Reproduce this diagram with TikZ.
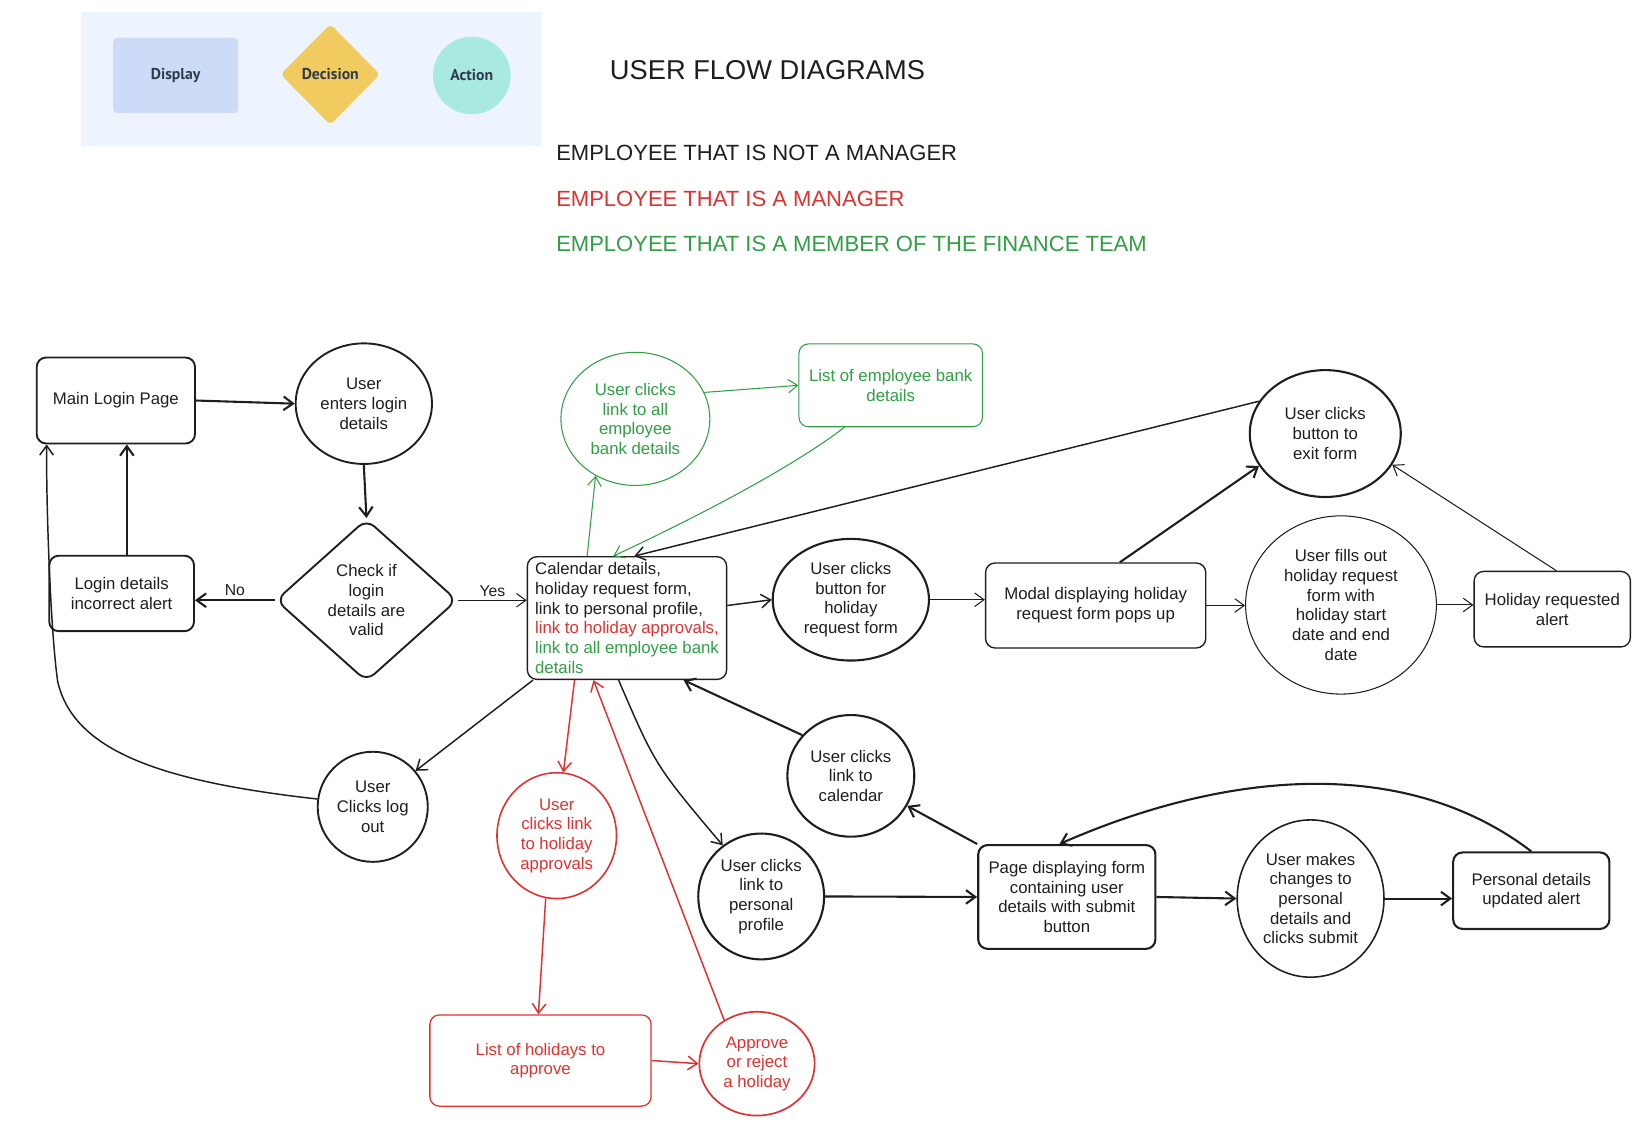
\documentclass[tikz,border=0pt]{standalone}
\usepackage{fontspec}
\setmainfont{Liberation Sans}
\newfontfamily\legfont{PT Sans}
\usetikzlibrary{shapes.geometric,arrows.meta}
\definecolor{ink}{HTML}{1E1E1E}
\definecolor{rd}{HTML}{E03131}
\definecolor{gr}{HTML}{2F9E44}
\definecolor{legbg}{HTML}{EEF4FD}
\definecolor{dispc}{HTML}{CCDCF6}
\definecolor{decc}{HTML}{F1CB5F}
\definecolor{actc}{HTML}{A8EAE1}
\definecolor{legtxt}{HTML}{2F3B4C}
\tikzset{
  box/.style={draw=ink, rectangle, rounded corners=9pt, line width=1.8pt, align=center, inner sep=3pt, text=ink},
  act/.style={draw=ink, ellipse, line width=1.8pt, align=center, inner sep=0pt, text=ink},
  dec/.style={draw=ink, diamond, line width=1.8pt, align=center, inner sep=0pt, rounded corners=10pt, text=ink},
  rbox/.style={box, draw=rd, text=rd, line width=1.2pt},
  ract/.style={act, draw=rd, text=rd, line width=1.5pt},
  gbox/.style={box, draw=gr, text=gr, line width=1pt},
  gact/.style={act, draw=gr, text=gr, line width=1pt},
  tip/.style={-{Straight Barb[length=9pt,width=13pt]}},
  thk/.style={draw=ink, line width=2pt, tip},
  med/.style={draw=ink, line width=1.4pt, tip},
  thn/.style={draw=ink, line width=1pt, tip},
  red/.style={draw=rd, line width=1.4pt, tip},
  grn/.style={draw=gr, line width=1pt, tip},
  leg/.style={font=\legfont\bfseries\fontsize{15}{18}\selectfont, text=legtxt},
  head/.style={font=\fontsize{21}{24}\selectfont, anchor=west},
  lbl/.style={font=\fontsize{15}{18}\selectfont, text=ink}
}
\begin{document}
\begin{tikzpicture}[x=1pt,y=-1pt, font=\fontsize{16}{18.8}\selectfont]
\path[use as bounding box] (0,0) rectangle (1568,1076);

% legend
\fill[legbg] (77,11) rectangle (516,139);
\node[leg, fill=dispc, rounded corners=4pt, minimum width=119pt, minimum height=72pt] (lgdisp) at (167.5,72) {Display};
\node[leg, diamond, fill=decc, rounded corners=4pt, inner sep=0pt, minimum width=95pt, minimum height=96pt] (lgdec) at (315,71) {Decision};
\node[leg, circle, fill=actc, inner sep=0pt, minimum size=74pt] (lgact) at (450,72) {Action};

% title and key
\node[font=\fontsize{26}{30}\selectfont, text=ink] (title) at (732,67) {USER FLOW DIAGRAMS};
\node[head, text=ink] (k1) at (527,146) {EMPLOYEE THAT IS NOT A MANAGER};
\node[head, text=rd] (k2) at (527,190) {EMPLOYEE THAT IS A MANAGER};
\node[head, text=gr] (k3) at (527,233) {EMPLOYEE THAT IS A MEMBER OF THE FINANCE TEAM};

% nodes
\node[box, minimum width=151pt, minimum height=82pt] (mainlogin) at (110.5,382) {Main Login Page};
\node[act, minimum width=130pt, minimum height=115pt] (enters) at (347,385) {User\\enters login\\details};
\node[dec, minimum width=173pt, minimum height=155pt] (check) at (349.5,572.5) {Check if\\login\\details are\\valid};
\node[box, minimum width=138pt, minimum height=72pt] (loginalert) at (116,566) {Login details\\incorrect alert};
\node[box, line width=1.3pt, inner sep=2pt, align=left, minimum width=190pt, minimum height=117pt] (calendar) at (598,589.5)
  {Calendar details,\\holiday request form,\\link to personal profile,\\\textcolor{rd}{link to holiday approvals,}\\\textcolor{gr}{link to all employee bank}\\\textcolor{gr}{details}};
\node[act, minimum width=105pt, minimum height=105pt] (logout) at (355.5,769.5) {User\\Clicks log\\out};
\node[ract, minimum width=114pt, minimum height=120pt] (apprlink) at (531,797) {User\\clicks link\\to holiday\\approvals};
\node[rbox, minimum width=211pt, minimum height=87pt] (hollist) at (515.5,1011.5) {List of holidays to\\approve};
\node[ract, line width=1.6pt, minimum width=110pt, minimum height=99pt] (approve) at (722,1014.5) {Approve\\or reject\\a holiday};
\node[gact, minimum width=142pt, minimum height=127pt] (banklink) at (606,399.5) {User clicks\\link to all\\employee\\bank details};
\node[gbox, minimum width=175pt, minimum height=79pt] (banklist) at (849.5,367.5) {List of employee bank\\details};
\node[act, line width=2pt, minimum width=149pt, minimum height=116pt] (holbtn) at (811.5,572) {User clicks\\button for\\holiday\\request form};
\node[box, line width=1.3pt, minimum width=210pt, minimum height=81pt] (modal) at (1045,577.5) {Modal displaying holiday\\request form pops up};
\node[act, line width=2pt, minimum width=144pt, minimum height=121pt] (exitform) at (1264,413.5) {User clicks\\button to\\exit form};
\node[act, line width=1pt, minimum width=182pt, minimum height=170pt] (fillsout) at (1279,577) {User fills out\\holiday request\\form with\\holiday start\\date and end\\date};
\node[box, line width=1.3pt, minimum width=149pt, minimum height=72pt] (reqalert) at (1480.5,581) {Holiday requested\\alert};
\node[act, line width=2pt, minimum width=121pt, minimum height=116pt] (callink) at (811.5,740) {User clicks\\link to\\calendar};
\node[act, line width=2pt, minimum width=120pt, minimum height=120pt] (proflink) at (726,855) {User clicks\\link to\\personal\\profile};
\node[box, line width=2pt, minimum width=169pt, minimum height=99pt] (pageform) at (1017.5,855.5) {Page displaying form\\containing user\\details with submit\\button};
\node[act, line width=1.5pt, minimum width=140pt, minimum height=150pt] (makes) at (1250,857) {User makes\\changes to\\personal\\details and\\clicks submit};
\node[box, line width=2pt, minimum width=149pt, minimum height=73pt] (persalert) at (1460.5,849.5) {Personal details\\updated alert};

% connectors
\draw[thk] (mainlogin.east) -- (enters.west);
\draw[thk] (enters.south) -- (check.north);
\draw[thk] (check.west) -- (check.west -| loginalert.east) node[lbl, midway, above] {No};
\draw[thk] ([xshift=5pt]loginalert.north) -- ([xshift=5pt]loginalert.north |- mainlogin.south);
\draw[thn] (check.east) -- (check.east -| calendar.west) node[lbl, midway, above] {Yes};
\draw[med] ([yshift=12pt]calendar.east) -- (holbtn.west);
\draw[thn] (holbtn.east) -- (holbtn.east -| modal.west);
\draw[thn] (modal.east) -- (modal.east -| fillsout.west);
\draw[thn] (fillsout.east) -- (fillsout.east -| reqalert.west);
\draw[thk] ([xshift=23pt]modal.north) -- (exitform.206);
\draw[thn] ([xshift=4pt]reqalert.north) -- (exitform.-25);
\draw[med] (exitform.154) -- ([xshift=7pt]calendar.north);
\draw[grn] ([xshift=-38pt]calendar.north) -- (banklink.-125);
\draw[grn] (banklink.21) -- (banklist.west);
\draw[grn] ([xshift=-44pt]banklist.south) .. controls (750,450) and (650,500) .. ([xshift=-13pt]calendar.north);
\draw[med] ([xshift=6pt]calendar.south west) -- (logout.40);
\draw[med] (logout.172) .. controls (150,745) and (70,715) .. (55,650) .. controls (48,600) and (44,480) .. ([xshift=-66pt]mainlogin.south);
\draw[red] ([xshift=-50pt]calendar.south) -- (apprlink.84);
\draw[red] (apprlink.-100) -- ([xshift=-2pt]hollist.north);
\draw[red] (hollist.east) -- (approve.west);
\draw[red] (approve.127) -- ([xshift=-32pt]calendar.south);
\draw[med] ([xshift=-8pt]calendar.south) .. controls (625,730) .. (proflink.127);
\draw[thk] (callink.140) -- ([xshift=54pt]calendar.south);
\draw[thk] (pageform.north west) -- (callink.-28);
\draw[thk] (proflink.east) -- (pageform.west);
\draw[thk] (pageform.east) -- (makes.west);
\draw[thk] (makes.east) -- (makes.east -| persalert.west);
\draw[thk] (persalert.north) .. controls (1340,720) and (1170,735) .. ([xshift=-7pt]pageform.north);
\end{tikzpicture}
\end{document}
